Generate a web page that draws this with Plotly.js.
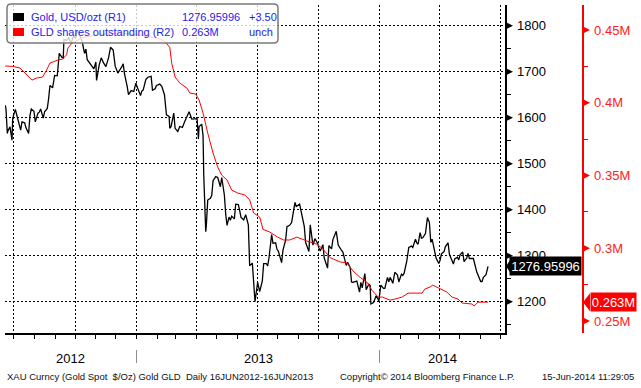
<!DOCTYPE html>
<html><head><meta charset="utf-8">
<script src="https://cdn.plot.ly/plotly-3.0.1.min.js"></script>
<style>html,body{margin:0;padding:0;background:#fff;overflow:hidden}#chart{width:641px;height:388px}</style>
</head><body><div id="chart"></div>
<script>
// ---- data ----
const goldDates = [
'2012-06-18','2012-06-19','2012-06-21','2012-06-22','2012-06-25','2012-06-28','2012-06-29',
'2012-07-03','2012-07-05','2012-07-09','2012-07-11','2012-07-13','2012-07-17','2012-07-19','2012-07-23','2012-07-25','2012-07-27','2012-07-31',
'2012-08-02','2012-08-06','2012-08-08','2012-08-10','2012-08-14','2012-08-16','2012-08-20','2012-08-22','2012-08-24','2012-08-28','2012-08-31',
'2012-09-04','2012-09-07','2012-09-11','2012-09-13','2012-09-14','2012-09-18','2012-09-21','2012-09-25','2012-09-28',
'2012-10-02','2012-10-04','2012-10-08','2012-10-11','2012-10-15','2012-10-17','2012-10-19','2012-10-23','2012-10-25','2012-10-29',
'2012-11-01','2012-11-02','2012-11-06','2012-11-09','2012-11-13','2012-11-16','2012-11-20','2012-11-23','2012-11-27','2012-11-30',
'2012-12-04','2012-12-06','2012-12-10','2012-12-12','2012-12-14','2012-12-18','2012-12-20','2012-12-24','2012-12-28','2012-12-31',
'2013-01-03','2013-01-07','2013-01-09','2013-01-11','2013-01-15','2013-01-18','2013-01-23','2013-01-25','2013-01-29','2013-01-31',
'2013-02-05','2013-02-08','2013-02-12','2013-02-15','2013-02-19','2013-02-20','2013-02-22','2013-02-26','2013-02-28',
'2013-03-04','2013-03-07','2013-03-11','2013-03-14','2013-03-18','2013-03-21','2013-03-25','2013-03-28',
'2013-04-02','2013-04-04','2013-04-05','2013-04-09','2013-04-11','2013-04-12','2013-04-15','2013-04-16','2013-04-18','2013-04-22','2013-04-24','2013-04-26','2013-04-30',
'2013-05-03','2013-05-07','2013-05-09','2013-05-13','2013-05-15','2013-05-17','2013-05-20','2013-05-22','2013-05-24','2013-05-28','2013-05-30',
'2013-06-03','2013-06-05','2013-06-07','2013-06-11','2013-06-14','2013-06-18','2013-06-20','2013-06-24','2013-06-26','2013-06-28',
'2013-07-02','2013-07-05','2013-07-09','2013-07-11','2013-07-15','2013-07-17','2013-07-19','2013-07-23','2013-07-25','2013-07-29','2013-07-31',
'2013-08-02','2013-08-07','2013-08-09','2013-08-13','2013-08-15','2013-08-19','2013-08-22','2013-08-27','2013-08-29',
'2013-09-03','2013-09-06','2013-09-10','2013-09-12','2013-09-17','2013-09-19','2013-09-23','2013-09-26','2013-09-30',
'2013-10-02','2013-10-04','2013-10-08','2013-10-10','2013-10-15','2013-10-17','2013-10-21','2013-10-23','2013-10-28','2013-10-31',
'2013-11-04','2013-11-07','2013-11-12','2013-11-14','2013-11-18','2013-11-20','2013-11-22','2013-11-26','2013-11-28',
'2013-12-02','2013-12-04','2013-12-06','2013-12-10','2013-12-12','2013-12-16','2013-12-18','2013-12-19','2013-12-23','2013-12-27','2013-12-31',
'2014-01-03','2014-01-07','2014-01-09','2014-01-13','2014-01-15','2014-01-17','2014-01-21','2014-01-24','2014-01-28','2014-01-30',
'2014-02-03','2014-02-05','2014-02-07','2014-02-11','2014-02-14','2014-02-18','2014-02-20','2014-02-24','2014-02-26','2014-02-28',
'2014-03-03','2014-03-05','2014-03-07','2014-03-11','2014-03-14','2014-03-17','2014-03-19','2014-03-21','2014-03-25','2014-03-27','2014-03-31',
'2014-04-02','2014-04-04','2014-04-08','2014-04-10','2014-04-14','2014-04-16','2014-04-22','2014-04-24','2014-04-28','2014-04-30',
'2014-05-02','2014-05-06','2014-05-08','2014-05-12','2014-05-14','2014-05-16','2014-05-20','2014-05-22','2014-05-27','2014-05-29',
'2014-06-02','2014-06-04','2014-06-06','2014-06-10','2014-06-12','2014-06-13'
];
const goldPrices = [
1627,1618,1566,1572,1580,1551,1598,
1618,1607,1584,1573,1591,1589,1578,1566,1605,1619,1614,
1591,1610,1612,1619,1599,1613,1620,1641,1670,1665,1692,
1691,1740,1731,1730,1770,1768,1774,1762,1776,
1775,1790,1777,1768,1740,1749,1726,1718,1712,1706,
1721,1681,1715,1730,1718,1711,1730,1753,1747,1712,
1697,1701,1711,1717,1695,1668,1650,1659,1657,1675,
1664,1648,1658,1660,1683,1688,1690,1660,1663,1670,
1673,1668,1650,1606,1603,1577,1581,1610,1577,
1570,1581,1579,1590,1604,1613,1597,1597,
1598,1554,1581,1586,1560,1477,1352,1368,1421,1425,1431,1463,1472,
1470,1450,1470,1432,1390,1366,1384,1377,1386,1380,1412,
1411,1398,1383,1378,1389,1367,1278,1284,1227,1200,
1242,1222,1245,1283,1283,1278,1295,1346,1327,1328,1314,
1310,1285,1312,1334,1363,1366,1372,1416,1407,
1412,1391,1364,1329,1309,1367,1323,1337,1327,
1317,1310,1324,1295,1273,1322,1315,1335,1353,1323,
1314,1308,1279,1286,1274,1243,1242,1243,1245,
1221,1242,1230,1261,1226,1238,1235,1195,1198,1213,1202,
1236,1229,1229,1253,1243,1253,1240,1264,1258,1243,
1260,1257,1262,1289,1318,1321,1318,1336,1328,1325,
1350,1338,1339,1348,1383,1372,1329,1336,1311,1295,1283,
1290,1304,1309,1320,1328,1303,1282,1293,1297,1291,
1302,1308,1287,1295,1305,1294,1294,1294,1265,1257,
1244,1244,1253,1259,1274,1276.96
];
const gldDates = [
'2012-06-18','2012-06-29','2012-07-10','2012-07-17','2012-07-28','2012-08-04','2012-08-13','2012-08-19','2012-08-24',
'2012-09-05','2012-09-12','2012-09-18','2012-09-20','2012-09-26','2012-10-04','2012-10-13','2012-11-07','2012-12-07',
'2013-01-14','2013-02-05','2013-02-13','2013-02-20','2013-02-23','2013-02-28','2013-03-07','2013-03-18','2013-03-22','2013-03-31',
'2013-04-05','2013-04-11','2013-04-18','2013-04-26','2013-05-03','2013-05-09','2013-05-17','2013-05-24','2013-06-02','2013-06-13',
'2013-06-20','2013-06-26','2013-07-05','2013-07-10','2013-07-20','2013-08-01','2013-08-10','2013-08-19','2013-08-30',
'2013-09-14','2013-09-29','2013-10-08','2013-10-19','2013-11-03','2013-11-13','2013-11-22','2013-12-03','2013-12-13','2013-12-21','2013-12-30',
'2014-01-05','2014-01-17','2014-01-24','2014-02-04','2014-02-13','2014-02-23','2014-03-06','2014-03-10','2014-03-18','2014-03-22','2014-03-30',
'2014-04-12','2014-04-20','2014-04-29','2014-05-05','2014-05-20','2014-05-23','2014-05-29','2014-06-13'
];
const gldShares = [
0.4253,0.4250,0.4239,0.4205,0.4156,0.4170,0.4177,0.4225,0.4273,
0.4294,0.4300,0.4330,0.4376,0.4410,0.4430,0.4450,0.4470,0.4480,
0.4460,0.4440,0.4420,0.4380,0.4270,0.4177,0.4136,0.4100,0.4067,0.4060,
0.4019,0.3930,0.3792,0.3655,0.3558,0.3503,0.3469,0.3400,0.3380,0.3366,
0.3332,0.3242,0.3215,0.3130,0.3112,0.3077,0.3057,0.3057,0.3077,
0.3050,0.3029,0.2995,0.2935,0.2906,0.2900,0.2845,0.2800,0.2768,0.2710,0.2665,
0.2665,0.2644,0.2651,0.2665,0.2692,0.2692,0.2692,0.2720,0.2734,0.2747,0.2727,
0.2700,0.2665,0.2651,0.2624,0.2617,0.2603,0.2630,0.2630
];
const r1Ticks = [1200,1300,1400,1500,1600,1700,1800];
const r2Ticks = [0.25,0.30,0.35,0.40,0.45];
const r2Labels = ['0.25M','0.3M','0.35M','0.4M','0.45M'];
const years = [2012,2013,2014];
const legendNames = ['Gold, USD/ozt (R1)','GLD shares outstanding (R2)'];
const legendValues = ['1276.95996','0.263M'];
const legendChanges = ['+3.50','unch'];
const legendColors = ['#000000','#ff0000'];
const lastGoldText = '1276.95996';
const lastGldText = '0.263M';
const footerLeft = 'XAU Curncy (Gold Spot  $/Oz) Gold GLD  Daily 16JUN2012-16JUN2013';
const footerMid = 'Copyright\u00a9 2014 Bloomberg Finance L.P.';
const footerRight = '15-Jun-2014 11:29:05';

// ---- layout geometry ----
const W = 641, H = 388;
const M = {l:5, r:59, t:5, b:55};
const PW = W - M.l - M.r, PH = H - M.t - M.b;
const px = p => (p - M.l) / PW;          // page x -> paper x
const py = p => (H - M.b - p) / PH;      // page y -> paper y
const xDomEnd = px(505);
const xRange = ['2012-06-17 12:00','2014-07-08 12:00'];
const FONT = 'Liberation Sans, Arial, sans-serif';
const GRID = '2px,2px';

const shapes = [];
const annotations = [];

// axis triangles at major ticks
r1Ticks.forEach(v => shapes.push({type:'path', xref:'paper', yref:'y', xsizemode:'pixel', ysizemode:'pixel',
  xanchor:xDomEnd, yanchor:v, path:'M0,4 L8,0 L0,-4 Z', fillcolor:'#000', line:{width:0}}));
r2Ticks.forEach(v => shapes.push({type:'path', xref:'paper', yref:'y2', xsizemode:'pixel', ysizemode:'pixel',
  xanchor:1, yanchor:v, path:'M0,4 L8,0 L0,-4 Z', fillcolor:'#ff0000', line:{width:0}}));

// last value badges
const lastGold = goldPrices[goldPrices.length-1];
const lastGld = gldShares[gldShares.length-1];
shapes.push({type:'path', xref:'paper', yref:'y', xsizemode:'pixel', ysizemode:'pixel',
  xanchor:xDomEnd, yanchor:lastGold, path:'M1,0 L7,9 L7,-9 Z', fillcolor:'#000', line:{width:0}});
annotations.push({xref:'paper', yref:'y', x:1, y:lastGold, xanchor:'right', yanchor:'middle', showarrow:false,
  text:lastGoldText, width:69, height:16, borderpad:1, bgcolor:'#000', font:{family:FONT, size:13, color:'#fff'}, align:'center'});
shapes.push({type:'path', xref:'paper', yref:'y2', xsizemode:'pixel', ysizemode:'pixel',
  xanchor:1, yanchor:lastGld, path:'M1,0 L8,9 L8,-9 Z', fillcolor:'#ff0000', line:{width:0}});
annotations.push({xref:'paper', yref:'y2', x:px(590), y:lastGld, xanchor:'left', yanchor:'middle', showarrow:false,
  text:lastGldText, width:43, height:16, borderpad:1, bgcolor:'#ff0000', font:{family:FONT, size:13, color:'#fff'}, align:'center'});

// legend box
const lx0 = px(7), lx1 = px(278), ly0 = py(43), ly1 = py(4);
const rx = 4/PW, ry = 4/PH;
shapes.push({type:'path', xref:'paper', yref:'paper', layer:'above',
  path:`M${lx0+rx},${ly1} L${lx1-rx},${ly1} Q${lx1},${ly1} ${lx1},${ly1-ry} L${lx1},${ly0+ry} Q${lx1},${ly0} ${lx1-rx},${ly0} L${lx0+rx},${ly0} Q${lx0},${ly0} ${lx0},${ly0+ry} L${lx0},${ly1-ry} Q${lx0},${ly1} ${lx0+rx},${ly1} Z`,
  fillcolor:'rgba(255,255,255,0.8)', line:{color:'#7a7a7a', width:1.5}});
const rowY = [17, 32];
legendNames.forEach((name, i) => {
  const cy = rowY[i];
  shapes.push({type:'rect', xref:'paper', yref:'paper', layer:'above', x0:px(13), x1:px(24), y0:py(cy+4), y1:py(cy-4),
    fillcolor:legendColors[i], line:{width:0}});
  const f = {family:FONT, size:11, color:'#2323e6'};
  annotations.push({xref:'paper', yref:'paper', x:px(29), y:py(cy), xanchor:'left', yanchor:'middle', showarrow:false, text:name, font:f});
  annotations.push({xref:'paper', yref:'paper', x:px(180), y:py(cy), xanchor:'left', yanchor:'middle', showarrow:false, text:legendValues[i], font:f});
  annotations.push({xref:'paper', yref:'paper', x:px(247), y:py(cy), xanchor:'left', yanchor:'middle', showarrow:false, text:legendChanges[i], font:f});
});

// year labels + separators
const toStr = d => d.toISOString().slice(0,19).replace('T',' ');
const r0 = new Date(xRange[0].replace(' ','T')+':00Z'), r1 = new Date(xRange[1].replace(' ','T')+':00Z');
years.forEach((y, i) => {
  const s = new Date(Date.UTC(y,0,1)), e = new Date(Date.UTC(y+1,0,1));
  const a = s < r0 ? r0 : s, b = e > r1 ? r1 : e;
  const mid = new Date((a.getTime()+b.getTime())/2);
  annotations.push({xref:'x', yref:'paper', x:toStr(mid), y:py(358), xanchor:'center', yanchor:'middle', showarrow:false,
    text:String(y), font:{family:FONT, size:13, color:'#000'}});
  if (i > 0) shapes.push({type:'line', xref:'x', yref:'paper', x0:toStr(s), x1:toStr(s), y0:py(350), y1:py(363),
    line:{color:'#8c8c8c', width:1}});
});

// footer
const ff = {family:FONT, size:9.5, color:'#111'};
annotations.push({xref:'paper', yref:'paper', x:px(5), y:py(376), xanchor:'left', yanchor:'middle', showarrow:false, text:footerLeft, font:ff});
annotations.push({xref:'paper', yref:'paper', x:px(338), y:py(376), xanchor:'left', yanchor:'middle', showarrow:false, text:footerMid, font:ff});
annotations.push({xref:'paper', yref:'paper', x:px(636), y:py(376), xanchor:'right', yanchor:'middle', showarrow:false, text:footerRight, font:ff});

const traces = [
  {x:goldDates, y:goldPrices, type:'scatter', mode:'lines', xaxis:'x', yaxis:'y', line:{color:'#000', width:1.3}, hoverinfo:'skip'},
  {x:gldDates, y:gldShares, type:'scatter', mode:'lines', xaxis:'x', yaxis:'y2', line:{color:'#ff0000', width:1}, hoverinfo:'skip'}
];

const layout = {
  width:W, height:H, margin:M, paper_bgcolor:'#fff', plot_bgcolor:'#fff', showlegend:false,
  xaxis:{type:'date', domain:[0,xDomEnd], range:xRange, showgrid:true, gridcolor:'#000', griddash:GRID, gridwidth:1,
    tickmode:'linear', tick0:'2012-07-01', dtick:'M3', ticks:'outside', ticklen:4, tickcolor:'#000', showticklabels:false,
    showline:true, linecolor:'#000', linewidth:1.5, zeroline:false, fixedrange:true,
    minor:{tickmode:'linear', tick0:'2012-07-01', dtick:'M1', ticks:'outside', ticklen:4, tickcolor:'#000', showgrid:false}},
  yaxis:{side:'right', anchor:'x', range:[1132,1845], tickmode:'array', tickvals:r1Ticks, ticktext:r1Ticks.map(String),
    showgrid:true, gridcolor:'#000', griddash:GRID, gridwidth:1, ticks:'outside', ticklen:8, tickcolor:'rgba(0,0,0,0)',
    showline:true, linecolor:'#000', linewidth:1.5, zeroline:false, fixedrange:true,
    tickfont:{family:FONT, size:13, color:'#000'},
    minor:{tickmode:'array', tickvals:r1Ticks.map(v=>v-50).concat([r1Ticks[r1Ticks.length-1]+50]), ticks:'outside', ticklen:4, tickcolor:'#000', showgrid:false}},
  yaxis2:{overlaying:'y', side:'right', anchor:'free', position:1, range:[0.2418,0.4672], tickmode:'array', tickvals:r2Ticks, ticktext:r2Labels,
    showgrid:false, ticks:'outside', ticklen:8, tickcolor:'rgba(0,0,0,0)', showline:true, linecolor:'#ff0000', linewidth:1.5,
    zeroline:false, fixedrange:true, tickfont:{family:FONT, size:13, color:'#ff2020'},
    minor:{tickmode:'array', tickvals:r2Ticks.map(v=>v+0.025), ticks:'outside', ticklen:4, tickcolor:'#ff0000', showgrid:false}},
  shapes:shapes, annotations:annotations
};

Plotly.newPlot('chart', traces, layout, {displayModeBar:false, staticPlot:true});
</script></body></html>
